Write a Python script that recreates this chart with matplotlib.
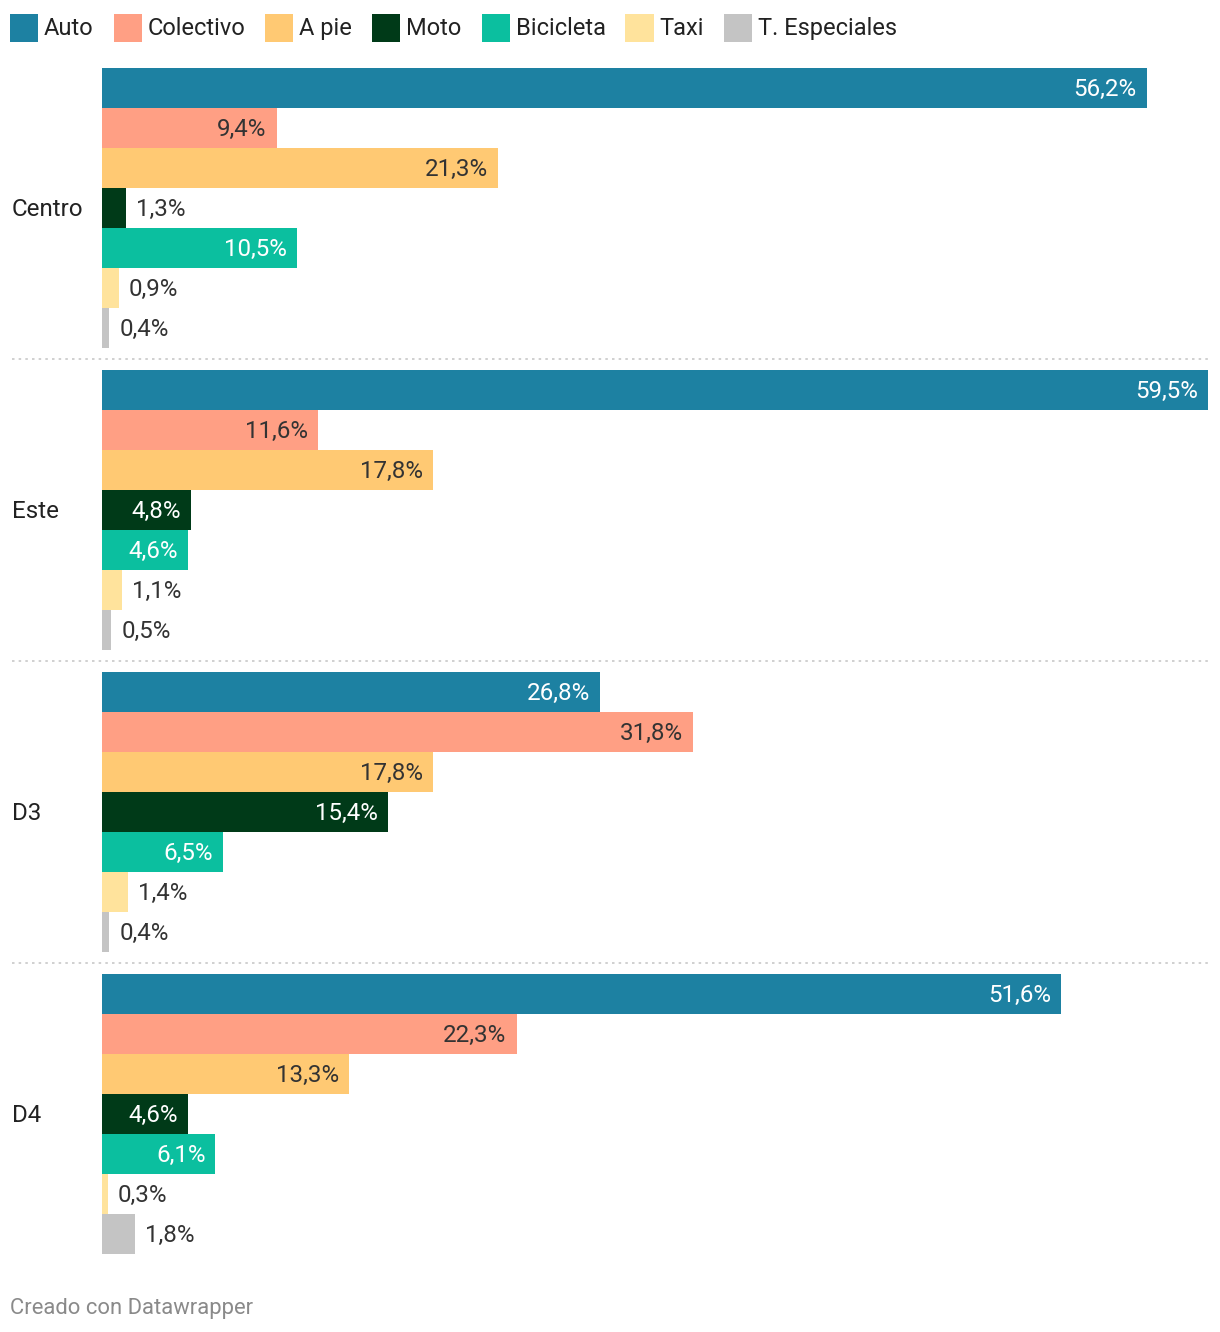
import matplotlib
matplotlib.use("Agg")
import matplotlib.pyplot as plt
from matplotlib.patches import Rectangle

plt.rcParams['font.family'] = ['Roboto', 'DejaVu Sans']

# datos
zonas = ["Centro", "Este", "D3", "D4"]
modos = ["Auto", "Colectivo", "A pie", "Moto", "Bicicleta", "Taxi", "T. Especiales"]
auto = [56.2, 59.5, 26.8, 51.6]
colectivo = [9.4, 11.6, 31.8, 22.3]
a_pie = [21.3, 17.8, 17.8, 13.3]
moto = [1.3, 4.8, 15.4, 4.6]
bicicleta = [10.5, 4.6, 6.5, 6.1]
taxi = [0.9, 1.1, 1.4, 0.3]
especiales = [0.4, 0.5, 0.4, 1.8]
series = [auto, colectivo, a_pie, moto, bicicleta, taxi, especiales]

colores = ["#1d81a2", "#ff9f84", "#ffc973", "#003a18", "#0bbf9f", "#ffe39c", "#c4c4c4"]
texto_dentro = ["white", "#333333", "#333333", "white", "white", "#333333", "#333333"]

W, H = 1220, 1332
fig = plt.figure(figsize=(W / 100, H / 100), dpi=100)

# ejes en pixeles
x0, x1 = 102, 1208
y_top, y_bot = 68, 1254
ax = fig.add_axes([x0 / W, 1 - y_bot / H, (x1 - x0) / W, (y_bot - y_top) / H])
xmax = 59.5
ax.set_xlim(0, xmax)
paso = 7.55  # 7 barras + hueco
ax.set_ylim((y_bot - y_top) / 40, 0)
ax.axis("off")

px = xmax / (x1 - x0)  # unidades por pixel
fs = 17.4

for g, zona in enumerate(zonas):
    base = g * paso
    for i, serie in enumerate(series):
        v = serie[g]
        yc = base + i + 0.5 - 0.02
        ax.barh(base + i + 0.5, v, height=1.0, color=colores[i], linewidth=0)
        lab = f"{v:.1f}%".replace(".", ",")
        if v > 3:
            ax.text(v - 10 * px, yc, lab, ha="right", va="center_baseline",
                    fontsize=fs, color=texto_dentro[i])
        else:
            ax.text(v + 10 * px, yc, lab, ha="left", va="center_baseline",
                    fontsize=fs, color="#333333")
    ax.text(-90 * px, base + 3.48, zona, ha="left", va="center_baseline",
            fontsize=fs, color="#222222")
    if g < len(zonas) - 1:
        ysep = base + 7.275
        ax.plot([-90 * px, xmax], [ysep, ysep], color="#c8c8c8", lw=1.2,
                ls=(0, (1.5, 2.5)), clip_on=False)

# leyenda
fig.canvas.draw()
r = fig.canvas.get_renderer()
xl = 10
for i, m in enumerate(modos):
    fig.patches.append(Rectangle((xl / W, 1 - 42 / H), 28 / W, 28 / H,
                                 transform=fig.transFigure, color=colores[i], lw=0))
    t = fig.text((xl + 34) / W, 1 - 26 / H, m, ha="left", va="center_baseline",
                 fontsize=17, color="#222222")
    wpx = t.get_window_extent(renderer=r).width
    xl = xl + 34 + wpx + 20

fig.text(10 / W, 1 - 1306 / H, "Creado con Datawrapper", ha="left",
         va="center_baseline", fontsize=15.8, color="#8a8a8a")

fig.savefig("out.png", dpi=100, facecolor="white")
